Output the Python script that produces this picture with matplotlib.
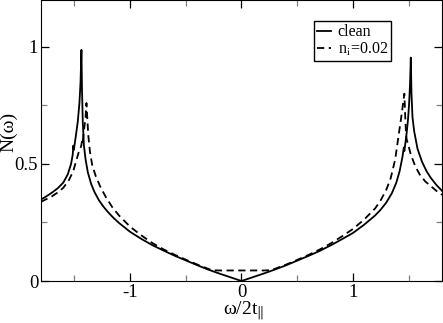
import matplotlib
matplotlib.use("Agg")
import matplotlib.pyplot as plt
from matplotlib.ticker import MultipleLocator

plt.rcParams['font.family'] = ['Liberation Serif', 'DejaVu Serif']
plt.rcParams['mathtext.fontset'] = 'stix'

# clean system
w_clean = [-1.80, -1.75, -1.70, -1.65, -1.60, -1.56, -1.53, -1.515, -1.51, -1.505,
           -1.49, -1.47, -1.455, -1.445, -1.437, -1.432, -1.425, -1.415, -1.40, -1.38,
           -1.35, -1.32, -1.28, -1.24, -1.20, -1.15, -1.10, -1.00, -0.90, -0.80,
           -0.70, -0.60, -0.50, -0.40, -0.30, -0.20, -0.10, 0.0,
           0.10, 0.20, 0.30, 0.40, 0.50, 0.60, 0.70, 0.80, 0.90, 1.00,
           1.10, 1.20, 1.25, 1.30, 1.35, 1.39, 1.42, 1.445, 1.457, 1.462,
           1.48, 1.495, 1.505, 1.513, 1.52, 1.526, 1.535, 1.55, 1.58, 1.62,
           1.66, 1.70, 1.75, 1.80]
n_clean = [0.348, 0.362, 0.378, 0.396, 0.420, 0.455, 0.500, 0.540, 0.578, 0.560,
           0.610, 0.680, 0.760, 0.850, 0.987, 0.820, 0.680, 0.580, 0.520, 0.465,
           0.415, 0.380, 0.345, 0.318, 0.295, 0.270, 0.248, 0.210, 0.180, 0.153,
           0.130, 0.108, 0.088, 0.068, 0.049, 0.032, 0.016, 0.0,
           0.016, 0.032, 0.049, 0.067, 0.087, 0.107, 0.128, 0.152, 0.178, 0.205,
           0.240, 0.280, 0.305, 0.335, 0.375, 0.420, 0.470, 0.530, 0.570, 0.555,
           0.620, 0.690, 0.760, 0.840, 0.954, 0.800, 0.700, 0.640, 0.565, 0.510,
           0.470, 0.440, 0.410, 0.385]

# with impurities, n_i = 0.02
w_imp = [-1.80, -1.75, -1.70, -1.65, -1.60, -1.55, -1.51, -1.48, -1.455, -1.44,
         -1.432, -1.427, -1.415, -1.40, -1.392, -1.385, -1.375, -1.36, -1.34, -1.31,
         -1.27, -1.22, -1.16, -1.10, -1.00, -0.90, -0.80, -0.70, -0.60, -0.50,
         -0.40, -0.30, -0.26, -0.20, -0.10, 0.0, 0.10, 0.20, 0.26,
         0.30, 0.40, 0.50, 0.60, 0.70, 0.80, 0.90, 1.00, 1.10, 1.20,
         1.25, 1.30, 1.34, 1.38, 1.41, 1.44, 1.462, 1.47, 1.478, 1.485,
         1.495, 1.52, 1.56, 1.60, 1.65, 1.70, 1.75, 1.80]
n_imp = [0.338, 0.350, 0.362, 0.378, 0.398, 0.430, 0.470, 0.520, 0.560, 0.575,
         0.595, 0.585, 0.640, 0.700, 0.760, 0.700, 0.620, 0.550, 0.495, 0.450,
         0.405, 0.360, 0.315, 0.280, 0.232, 0.195, 0.162, 0.135, 0.112, 0.091,
         0.071, 0.052, 0.046, 0.045, 0.045, 0.045, 0.045, 0.045, 0.046,
         0.052, 0.070, 0.090, 0.111, 0.134, 0.160, 0.190, 0.222, 0.262, 0.310,
         0.345, 0.390, 0.440, 0.520, 0.620, 0.720, 0.800, 0.700, 0.620, 0.600,
         0.585, 0.540, 0.490, 0.455, 0.425, 0.405, 0.385, 0.368]

x_ticks = [-1, 0, 1]
x_ticklabels = ['-1', '0', '1']
y_ticks = [0, 0.5, 1]
y_ticklabels = ['0', '0.5', '1']

fig = plt.figure(figsize=(4.43, 3.23), dpi=100)
ax = fig.add_axes([41/443, 42/323, 401/443, 281/323])

ax.plot(w_clean, n_clean, color='black', lw=1.3, label='clean')
ax.plot(w_imp, n_imp, color='black', lw=1.3, ls=(0, (4, 2.5)), label='n$_\\mathrm{i}$=0.02')

ax.set_xlim(-1.8, 1.8)
ax.set_ylim(0, 1.2)
ax.xaxis.set_minor_locator(MultipleLocator(0.5))
ax.yaxis.set_minor_locator(MultipleLocator(0.25))
ax.set_xticks(x_ticks)
ax.set_xticklabels(x_ticklabels)
ax.set_yticks(y_ticks)
ax.set_yticklabels(y_ticklabels)
ax.tick_params(which='both', direction='in', top=True, right=True, labelsize=13.5, pad=2)
ax.tick_params(which='major', length=6, width=0.9)
ax.tick_params(which='minor', length=4, width=0.9, color='gray')

ax.set_xlabel('ω/2t$_{\\|}$', fontsize=14)
ax.xaxis.set_label_coords(0.505, -0.066)
ax.set_ylabel('N(ω)', fontsize=14)
ax.yaxis.set_label_coords(-0.06, 0.53)

ax.legend(loc='upper right', bbox_to_anchor=(0.873, 0.925), fontsize=11.5,
          frameon=True, fancybox=False, edgecolor='black', framealpha=1,
          handlelength=0.9, handletextpad=0.4, borderpad=0.2, labelspacing=0.05,
          borderaxespad=0)

fig.savefig('out.png', dpi=100)
